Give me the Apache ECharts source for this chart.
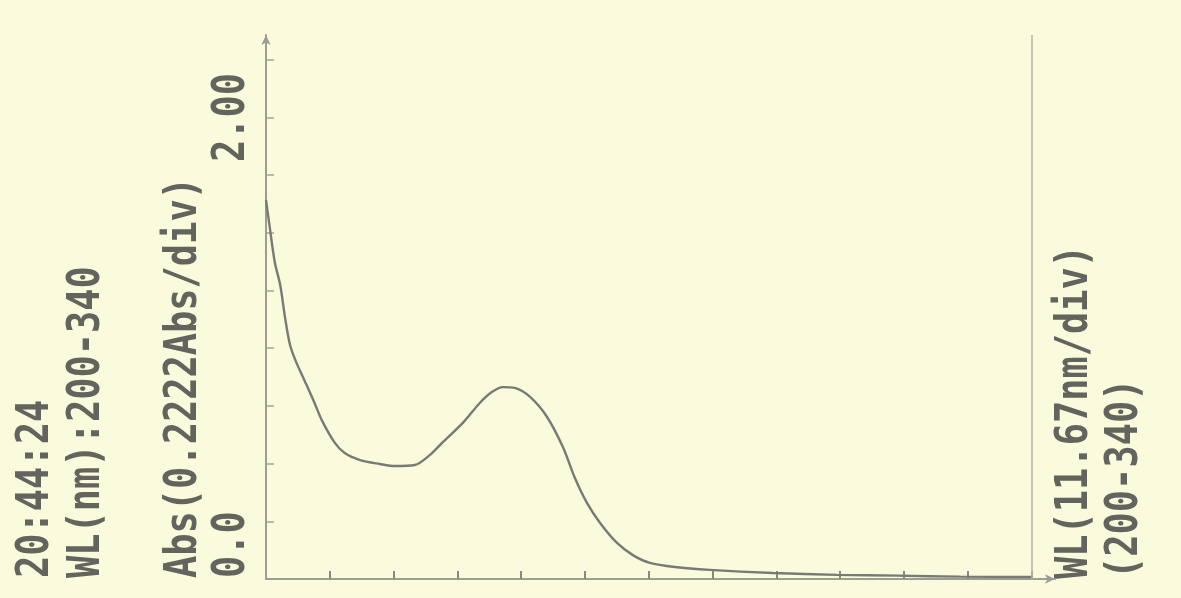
<!DOCTYPE html>
<html>
<head>
<meta charset="utf-8">
<script src="https://cdn.jsdelivr.net/npm/echarts@6/dist/echarts.min.js"></script>
<style>
html,body{margin:0;padding:0;background:#fafadc;}
#c{width:1181px;height:598px;}
</style>
</head>
<body>
<div id="c"></div>
<script>
// Wavelength (nm) and absorbance
const wavelengths = [200, 200.7, 201.6, 202.6, 203.5, 204.4, 205.5, 207.1, 208.8, 210.2, 212.6, 214.4, 217.2, 220.8, 223.6, 227.2, 230.0, 232.2, 236.0, 239.1, 241.3, 243.3, 245.5, 248.3, 251.4, 254.3, 256.5, 258.7, 261.1, 264.2, 267.1, 270.2, 274.8, 281.2, 292.7, 304.4, 315.6, 326.9, 340];
const absorbance  = [1.460, 1.352, 1.221, 1.132, 1.005, 0.901, 0.836, 0.762, 0.682, 0.612, 0.524, 0.485, 0.458, 0.443, 0.435, 0.439, 0.478, 0.524, 0.601, 0.678, 0.720, 0.739, 0.736, 0.701, 0.624, 0.508, 0.389, 0.293, 0.216, 0.139, 0.092, 0.062, 0.046, 0.035, 0.023, 0.016, 0.013, 0.009, 0.008];
// Tick positions: 11.67 nm/div and 0.2222 Abs/div
const xTicks = [211.67, 223.33, 235, 246.67, 258.33, 270, 281.67, 293.33, 305, 316.67, 328.33, 340];
const yTicks = [0.2222, 0.4444, 0.6667, 0.8889, 1.1111, 1.3333, 1.5556, 1.7778, 2.0];
// Texts printed on the chart
const leftTexts = ['20:44:24', 'WL(nm):200-340', 'Abs(0.2222Abs/div)'];
const yTickLabels = ['0.0', '2.00'];
const rightTexts = ['WL(11.67nm/div)', '(200-340)'];

const axisColor = '#9d9d94';
const textColor = '#64645e';
const font = 'bold 37px "DejaVu Sans Mono"';

function vText(txt, x, y) {
  return {
    type: 'text', x: x, y: y, rotation: Math.PI / 2, scaleY: 1.18,
    style: { text: txt, font: font, fill: textColor, align: 'left', verticalAlign: 'middle' }
  };
}

const chart = echarts.init(document.getElementById('c'));
chart.setOption({
  backgroundColor: '#fafadc',
  animation: false,
  grid: { left: 266, right: 126, top: 35, bottom: 19 },
  xAxis: {
    type: 'value', min: 200, max: 344.3,
    axisLine: { show: true, lineStyle: { color: axisColor, width: 2 }, symbol: ['none', 'arrow'], symbolSize: [7, 10] },
    axisTick: { show: true, inside: true, length: 8, customValues: xTicks, lineStyle: { color: '#8a8a82', width: 2 } },
    axisLabel: { show: false },
    splitLine: { show: false }
  },
  yAxis: {
    type: 'value', min: 0, max: 2.095,
    axisLine: { show: true, lineStyle: { color: axisColor, width: 2 }, symbol: ['none', 'arrow'], symbolSize: [7, 10] },
    axisTick: { show: true, inside: true, length: 8, customValues: yTicks, lineStyle: { color: '#a3a39a', width: 1.5 } },
    axisLabel: { show: false },
    splitLine: { show: false }
  },
  series: [{
    type: 'line',
    data: wavelengths.map((w, i) => [w, absorbance[i]]),
    showSymbol: false,
    smooth: 0.3,
    lineStyle: { color: '#7a7a74', width: 2.4 },
    markLine: {
      silent: true, symbol: ['none', 'none'],
      label: { show: false },
      lineStyle: { color: '#b4b4aa', width: 1.5, type: 'solid' },
      data: [{ xAxis: 340 }]
    }
  }],
  graphic: [
    vText(leftTexts[0], 37, 578),
    vText(leftTexts[1], 88, 578),
    vText(leftTexts[2], 185, 578),
    vText(yTickLabels[0], 233, 578),
    vText(yTickLabels[1], 233, 162),
    vText(rightTexts[0], 1076, 579),
    vText(rightTexts[1], 1126, 579)
  ]
});
</script>
</body>
</html>
